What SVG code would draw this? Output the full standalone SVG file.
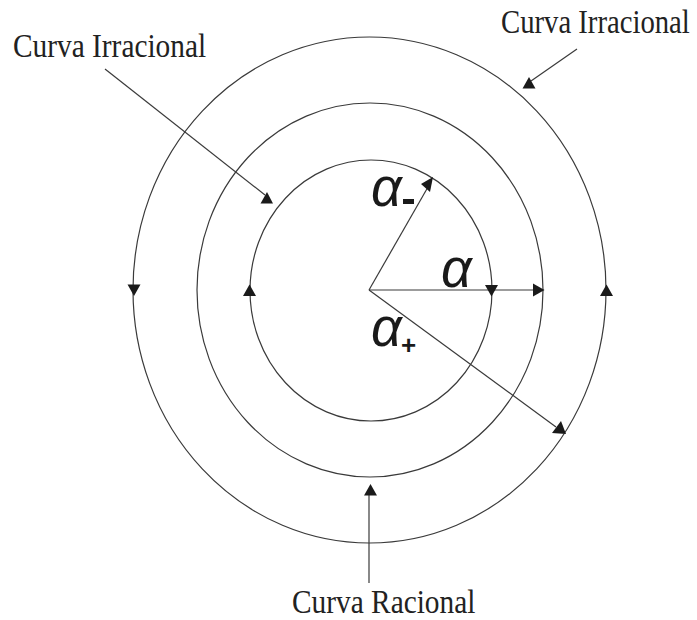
<svg xmlns="http://www.w3.org/2000/svg" width="697" height="620" viewBox="0 0 697 620">
<style>
.c{fill:none;stroke:#3a3a3a;stroke-width:1.2}
.l{stroke:#3a3a3a;stroke-width:1.2;fill:none}
.h{fill:#1a1a1a}
.t{font-family:"Liberation Serif","Times New Roman",serif;fill:#222}
.g{font-family:"Liberation Sans",Arial,sans-serif;font-style:italic;fill:#1a1a1a}
</style>
<defs>
<polygon id="up" points="0,-6 -6.5,5.5 6.5,5.5"/>
</defs>
<rect width="697" height="620" fill="#fff"/>
<g id="circles">
<ellipse id="outer" class="c" cx="369.5" cy="290" rx="236.5" ry="253"/>
<ellipse id="middle" class="c" cx="370" cy="290" rx="173" ry="187"/>
<ellipse id="inner" class="c" cx="371" cy="290.5" rx="121" ry="130.5"/>
</g>
<g id="connectors">
<line class="l" x1="369" y1="290" x2="535" y2="290"/>
<polygon class="h" points="544.5,290 533,283.5 533,296.5"/>
<line class="l" x1="369" y1="290" x2="428" y2="187"/>
<polygon class="h" points="433,177 421,184 430,192"/>
<line class="l" x1="369" y1="290" x2="556" y2="427"/>
<polygon class="h" points="561,421 552,433 566,434"/>
<line class="l" x1="105" y1="69" x2="265" y2="195"/>
<polygon class="h" points="267,192 260.5,203.5 273,203.5"/>
<line class="l" x1="577" y1="49" x2="531" y2="81"/>
<polygon class="h" points="529,77 522.5,88.5 535.5,88.5"/>
<line class="l" x1="369" y1="583" x2="369" y2="492"/>
<use class="h" href="#up" x="370.5" y="490"/>
<use class="h" href="#up" transform="translate(134,290) rotate(180)"/>
<use class="h" href="#up" x="249.5" y="290.5"/>
<use class="h" href="#up" transform="translate(491.5,290.5) rotate(180)"/>
<use class="h" href="#up" x="606.5" y="290.5"/>
</g>
<g id="labels">
<text class="t" font-size="33" transform="translate(13,57) scale(0.89,1)">Curva Irracional</text>
<text class="t" font-size="33" transform="translate(501,33) scale(0.87,1)">Curva Irracional</text>
<text class="t" font-size="33" transform="translate(292,613) scale(0.89,1)">Curva Racional</text>
<text class="g" x="441" y="287" font-size="54">α</text>
<text class="g" x="371" y="206" font-size="54">α</text>
<rect class="h" x="403" y="199" width="11" height="5"/>
<text class="g" x="371" y="346" font-size="54">α</text>
<text x="401" y="354" font-size="26" font-family="Liberation Sans,Arial,sans-serif" font-weight="bold" fill="#1a1a1a">+</text>
</g>
</svg>
